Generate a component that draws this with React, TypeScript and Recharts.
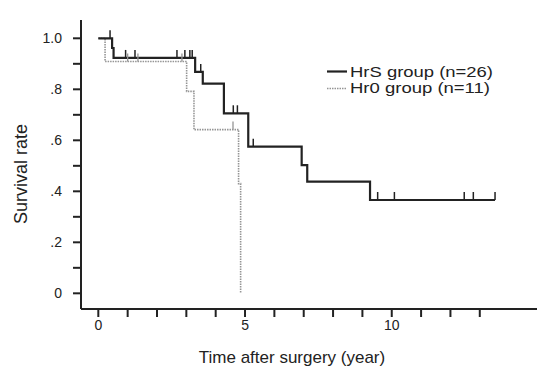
import React from 'react';
import { LineChart, Line, XAxis, YAxis } from 'recharts';

// HrS group (n=26): time (years), survival, censored flag
const hrsTime = [0, 0.4, 0.47, 0.52, 0.93, 1.25, 2.68, 2.95, 3.12, 3.2, 3.3, 3.49, 3.56, 4.28, 4.6, 4.74, 5.11, 5.28, 6.93, 7.12, 9.26, 9.52, 10.09, 12.47, 12.78, 13.52];
const hrsSurv = [1, 1, 0.962, 0.923, 0.923, 0.923, 0.923, 0.923, 0.923, 0.923, 0.868, 0.868, 0.822, 0.706, 0.706, 0.706, 0.575, 0.575, 0.503, 0.438, 0.366, 0.366, 0.366, 0.366, 0.366, 0.366];
const hrsCens = [0, 1, 0, 0, 1, 1, 1, 1, 1, 1, 0, 1, 0, 0, 1, 1, 0, 1, 0, 0, 0, 1, 1, 1, 1, 1];

// Hr0 group (n=11)
const hr0Time = [0, 0.23, 1.0, 1.35, 2.85, 3.01, 3.26, 4.59, 4.78, 4.85];
const hr0Surv = [1, 0.909, 0.909, 0.909, 0.909, 0.792, 0.642, 0.642, 0.43, 0];
const hr0Cens = [0, 0, 1, 1, 1, 0, 0, 1, 0, 0];

const xTicks = [0, 1, 2, 3, 4, 5, 6, 7, 8, 9, 10, 11, 12, 13];
const xLabels = ['0', '5', '10'];
const yTicks = [0, 0.1, 0.2, 0.3, 0.4, 0.5, 0.6, 0.7, 0.8, 0.9, 1.0];
const yLabels: Record<string, string> = { '0': '0', '0.2': '.2', '0.4': '.4', '0.6': '.6', '0.8': '.8', '1': '1.0' };

const legendItems = ['HrS group (n=26)', 'Hr0 group (n=11)'];

const hrsData = hrsTime.map((t, i) => ({ t, s: hrsSurv[i], c: hrsCens[i] }));
const hr0Data = hr0Time.map((t, i) => ({ t, s: hr0Surv[i], c: hr0Cens[i] }));

const FONT = '"Liberation Sans", Arial, Helvetica, sans-serif';
const INK = '#222';
const GRAY = '#959595';

const censorDot = (color: string, w: number, prefix: string) => (props: any) => {
  const { cx, cy, payload, index } = props;
  if (!payload || !payload.c) return <g key={`${prefix}${index}`} />;
  return (
    <line key={`${prefix}${index}`} x1={cx} x2={cx} y1={cy} y2={cy - 8} stroke={color} strokeWidth={w} />
  );
};

export default function App() {
  return (
    <div style={{ position: 'absolute', left: 0, top: 0, width: 537, height: 370, background: '#fff' }}>
      <LineChart width={537} height={370} margin={{ top: 20, right: 0, bottom: 0, left: 0 }}>
        <XAxis
          type="number"
          dataKey="t"
          domain={[-0.59, 14.95]}
          allowDataOverflow
          ticks={xTicks}
          interval={0}
          height={61}
          tickSize={8}
          tickMargin={3}
          tickFormatter={(v: number) => (xLabels.includes(String(v)) ? String(v) : '')}
          axisLine={{ stroke: INK, strokeWidth: 2 }}
          tickLine={{ stroke: INK, strokeWidth: 2 }}
          tick={{ fontSize: 14, fill: INK, fontFamily: FONT }}
        />
        <YAxis
          type="number"
          dataKey="s"
          domain={[-0.0615, 1.0718]}
          allowDataOverflow
          ticks={yTicks}
          interval={0}
          width={81}
          tickSize={8}
          tickMargin={11}
          tickFormatter={(v: number) => yLabels[String(Math.round(v * 10) / 10)] ?? ''}
          axisLine={{ stroke: INK, strokeWidth: 2 }}
          tickLine={{ stroke: INK, strokeWidth: 2 }}
          tick={{ fontSize: 14, fill: INK, fontFamily: FONT }}
        />
        <Line
          data={hr0Data}
          dataKey="s"
          type="stepAfter"
          stroke={GRAY}
          strokeWidth={1.6}
          strokeDasharray="1.5 1"
          dot={censorDot(GRAY, 1.3, 'g')}
          activeDot={false}
          isAnimationActive={false}
        />
        <Line
          data={hrsData}
          dataKey="s"
          type="stepAfter"
          stroke={INK}
          strokeWidth={2.2}
          dot={censorDot(INK, 1.5, 'b')}
          activeDot={false}
          isAnimationActive={false}
        />
      </LineChart>
      <svg width={537} height={370} style={{ position: 'absolute', left: 0, top: 0, pointerEvents: 'none' }}>
        <text
          x={0}
          y={0}
          transform="translate(27 174) rotate(-90)"
          textAnchor="middle"
          fontSize={18}
          fill={INK}
          fontFamily={FONT}
        >
          Survival rate
        </text>
        <text x={292} y={363} textAnchor="middle" fontSize={17} fill={INK} fontFamily={FONT}>
          Time after surgery (year)
        </text>
        <line x1={327} x2={347} y1={71.5} y2={71.5} stroke={INK} strokeWidth={2.2} />
        <text x={350} y={76.5} fontSize={15} fill={INK} fontFamily={FONT} textLength={143} lengthAdjust="spacingAndGlyphs">
          {legendItems[0]}
        </text>
        <line x1={327} x2={347} y1={88.5} y2={88.5} stroke={GRAY} strokeWidth={1.6} strokeDasharray="1.5 1" />
        <text x={350} y={93} fontSize={15} fill={INK} fontFamily={FONT} textLength={140} lengthAdjust="spacingAndGlyphs">
          {legendItems[1]}
        </text>
      </svg>
    </div>
  );
}
